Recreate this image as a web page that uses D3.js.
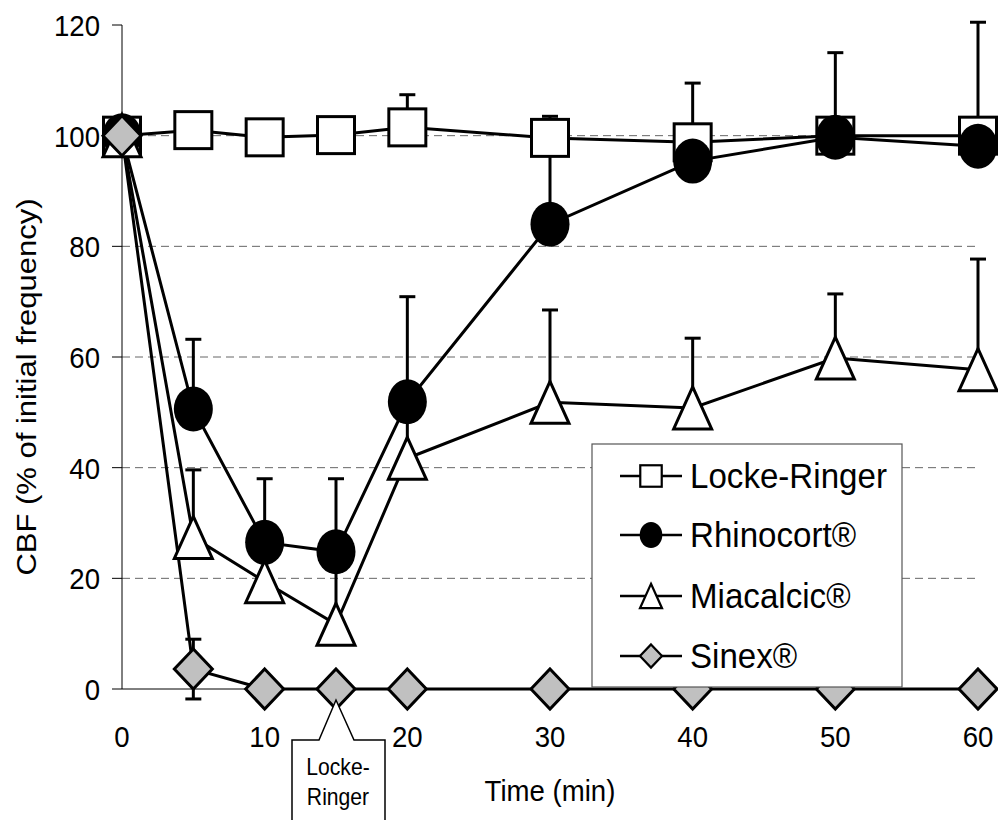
<!DOCTYPE html>
<html>
<head>
<meta charset="utf-8">
<script src="https://cdn.jsdelivr.net/npm/d3@7"></script>
<style>
  body { margin: 0; background: #fff; }
  text { font-family: "Liberation Sans", Arial, sans-serif; fill: #000; }
</style>
</head>
<body>
<div id="chart"></div>
<script>
// time points (min)
var times = [0, 5, 10, 15, 20, 30, 40, 50, 60];

// CBF values (% of initial frequency)
var lockeRinger    = [100, 101, 99.7, 100.1, 101.5, 99.6, 98.8, 100, 100];
var lockeRingerErr = [0, 0.5, 0.5, 0.5, 5.9, 3.9, 10.7, 15, 20.5];
var rhinocort      = [100, 50.6, 26.5, 24.8, 51.9, 84, 95.4, 99.7, 98.1];
var rhinocortErr   = [0, 12.6, 11.5, 13.2, 19, 17, 2, 2, 2];
var miacalcic      = [100, 27.4, 19.4, 11.7, 41.7, 51.8, 50.8, 59.8, 57.7];
var miacalcicErr   = [0, 12.2, 8, 13, 10, 16.7, 12.6, 11.6, 20];
var sinex          = [100, 3.6, 0, 0, 0, 0, 0, 0, 0];
var sinexErr       = [0, 5.4, 0, 0, 0, 0, 0, 0, 0];

var seriesNames = ['Locke-Ringer', 'Rhinocort\u00ae', 'Miacalcic\u00ae', 'Sinex\u00ae'];
var yTicks = [0, 20, 40, 60, 80, 100, 120];
var xTicks = [0, 10, 20, 30, 40, 50, 60];
var gridValues = [20, 40, 60, 80, 100];

var W = 998, H = 820;
var sx = 0.92; // the original is slightly squeezed horizontally

var x = d3.scaleLinear().domain([0, 60]).range([122, 978]);
var y = d3.scaleLinear().domain([0, 120]).range([689, 25]);

var svg = d3.select('#chart').append('svg')
    .attr('width', W).attr('height', H);

// text helper: squeezed text at a point
function label(g, tx, ty, str, size, anchor, rot) {
    return g.append('text')
        .attr('transform', 'translate(' + tx + ',' + ty + ') scale(' + sx + ',1)' + (rot ? ' rotate(' + rot + ')' : ''))
        .attr('text-anchor', anchor || 'start')
        .style('font-size', size + 'px')
        .text(str);
}

// gridlines
svg.append('g').selectAll('line')
    .data(gridValues).enter().append('line')
    .attr('x1', x(0)).attr('x2', x(60))
    .attr('y1', function(d){ return y(d); }).attr('y2', function(d){ return y(d); })
    .attr('stroke', '#666').attr('stroke-width', 1)
    .attr('stroke-dasharray', '8,5');

// y axis
var yAxis = svg.append('g');
yAxis.append('line')
    .attr('x1', x(0)).attr('x2', x(0))
    .attr('y1', y(120)).attr('y2', y(0))
    .attr('stroke', '#000').attr('stroke-width', 1);
yAxis.selectAll('line.tick')
    .data(yTicks).enter().append('line')
    .attr('class', 'tick')
    .attr('x1', x(0) - 10).attr('x2', x(0))
    .attr('y1', function(d){ return y(d); }).attr('y2', function(d){ return y(d); })
    .attr('stroke', '#000').attr('stroke-width', 1);
yTicks.forEach(function(d){
    label(yAxis, 100, y(d) + 11, d, 30, 'end');
});

// x axis
var xAxis = svg.append('g');
xAxis.append('line')
    .attr('x1', x(0)).attr('x2', x(60))
    .attr('y1', y(0)).attr('y2', y(0))
    .attr('stroke', '#000').attr('stroke-width', 1);
xTicks.forEach(function(d){
    label(xAxis, x(d), 747, d, 30, 'middle');
});

// axis titles
label(svg, (x(0) + x(60)) / 2, 801, 'Time (min)', 30, 'middle');
label(svg, 36, 387, 'CBF (% of initial frequency)', 31, 'middle', -90);

var series = [
    { name: seriesNames[0], values: lockeRinger, up: lockeRingerErr, down: null, shape: 'square' },
    { name: seriesNames[1], values: rhinocort, up: rhinocortErr, down: null, shape: 'circle' },
    { name: seriesNames[2], values: miacalcic, up: miacalcicErr, down: null, shape: 'triangle' },
    { name: seriesNames[3], values: sinex, up: sinexErr, down: sinexErr, shape: 'diamond' }
];

// marker drawing
function marker(g, shape, cx, cy, k, sw) {
    var w = 19 * k, h = 21 * k;
    if (shape === 'square') {
        g.append('rect')
            .attr('x', cx - 18.5 * k).attr('y', cy - 18.5 * k)
            .attr('width', 37 * k).attr('height', 37 * k)
            .attr('fill', '#fff').attr('stroke', '#000').attr('stroke-width', sw);
    } else if (shape === 'circle') {
        g.append('ellipse')
            .attr('cx', cx).attr('cy', cy)
            .attr('rx', 19.5 * k).attr('ry', 22.5 * k)
            .attr('fill', '#000');
    } else if (shape === 'triangle') {
        g.append('path')
            .attr('d', 'M' + cx + ',' + (cy - h) + 'L' + (cx + w) + ',' + (cy + h) + 'L' + (cx - w) + ',' + (cy + h) + 'Z')
            .attr('fill', '#fff').attr('stroke', '#000').attr('stroke-width', sw)
            .attr('stroke-linejoin', 'miter');
    } else {
        g.append('path')
            .attr('d', 'M' + cx + ',' + (cy - 20 * k) + 'L' + (cx + w) + ',' + cy + 'L' + cx + ',' + (cy + 20 * k) + 'L' + (cx - w) + ',' + cy + 'Z')
            .attr('fill', '#c0c0c0').attr('stroke', '#000').attr('stroke-width', sw);
    }
}

// error bars first
var errG = svg.append('g');
series.forEach(function(s){
    times.forEach(function(t, i){
        var v = s.values[i];
        var hi = v + s.up[i];
        var lo = s.down ? v - s.down[i] : v;
        if (hi === lo) return;
        errG.append('line')
            .attr('x1', x(t)).attr('x2', x(t))
            .attr('y1', y(lo)).attr('y2', y(hi))
            .attr('stroke', '#000').attr('stroke-width', 3);
        errG.append('line')
            .attr('x1', x(t) - 8).attr('x2', x(t) + 8)
            .attr('y1', y(hi)).attr('y2', y(hi))
            .attr('stroke', '#000').attr('stroke-width', 3);
        if (s.down) {
            errG.append('line')
                .attr('x1', x(t) - 8).attr('x2', x(t) + 8)
                .attr('y1', y(lo)).attr('y2', y(lo))
                .attr('stroke', '#000').attr('stroke-width', 3);
        }
    });
});

// lines
var line = d3.line()
    .x(function(d, i){ return x(times[i]); })
    .y(function(d){ return y(d); });
var lineG = svg.append('g');
series.forEach(function(s){
    lineG.append('path')
        .attr('d', line(s.values))
        .attr('fill', 'none').attr('stroke', '#000').attr('stroke-width', 3);
});

// markers
var markG = svg.append('g');
series.forEach(function(s){
    times.forEach(function(t, i){
        marker(markG, s.shape, x(t), y(s.values[i]), 1, 3);
    });
});

// legend
var leg = svg.append('g');
leg.append('rect')
    .attr('x', 592).attr('y', 444).attr('width', 310).attr('height', 243)
    .attr('fill', '#fff').attr('stroke', '#555').attr('stroke-width', 1.2);
var rowY = [476, 535, 596, 656];
series.forEach(function(s, i){
    leg.append('line')
        .attr('x1', 620).attr('x2', 682)
        .attr('y1', rowY[i]).attr('y2', rowY[i])
        .attr('stroke', '#000').attr('stroke-width', 2.5);
    marker(leg, s.shape, 651, rowY[i], 0.58, 2.2);
    label(leg, 690, rowY[i] + 12, s.name, 36, 'start');
});

// "Locke-Ringer" callout below 15 min
var cx15 = x(15);
var call = svg.append('g');
call.append('path')
    .attr('d', 'M292,830 L292,740 L' + (cx15 - 17) + ',740 L' + cx15 + ',' + (y(0) + 11) +
        ' L' + (cx15 + 18) + ',740 L385,740 L385,830')
    .attr('fill', '#fff').attr('stroke', '#000').attr('stroke-width', 1.5);
label(call, 338, 775, 'Locke-', 23, 'middle');
label(call, 338, 805, 'Ringer', 23, 'middle');
</script>
</body>
</html>
